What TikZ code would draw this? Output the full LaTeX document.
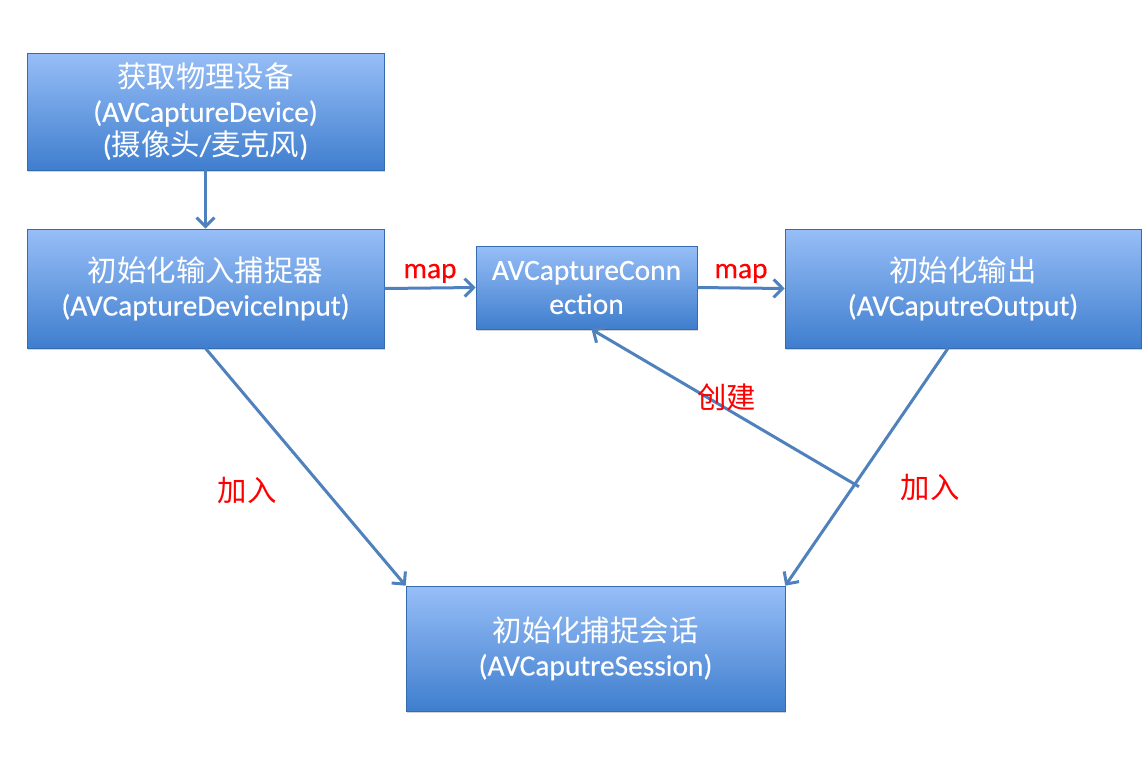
\documentclass[tikz,border=0pt]{standalone}
\usepackage{fontspec}
\setmainfont{Carlito}[FakeBold=0.4]
\newfontfamily\cjk{Noto Sans CJK SC}
\usetikzlibrary{arrows.meta, positioning, shadows, calc}
\definecolor{boxtop}{HTML}{97BEF7}
\definecolor{boxbot}{HTML}{3F7ECE}
\definecolor{linkblue}{HTML}{4F81BD}

\begin{document}
\begin{tikzpicture}[
    x=0.5pt, y=-0.5pt,
    box/.style={rectangle, draw=boxbot!85!black, line width=0.3pt, top color=boxtop, bottom color=boxbot, text=white, align=center, inner sep=0pt, font=\fontsize{14.7}{17}\selectfont, drop shadow={opacity=0.35, shadow xshift=0.6pt, shadow yshift=-1pt}},
    arrow/.style={-{Straight Barb[length=4.5pt, width=9pt]}, line width=1.5pt, draw=linkblue},
    tag/.style={text=red, font=\fontsize{14.7}{17}\selectfont}
]
    \useasboundingbox (0,0) rectangle (1147,762);

    % boxes
    \node[box, minimum width=178.5pt, minimum height=58.5pt] (device) at (205.5,111.5)
        {{\cjk 获取物理设备}\\(AVCaptureDevice)\\({\cjk 摄像头}/{\cjk 麦克风})};
    \node[box, minimum width=178.5pt, minimum height=59.5pt] (input) at (205.5,288.5)
        {{\cjk 初始化输入捕捉器}\\(AVCaptureDeviceInput)};
    \node[box, minimum width=110.5pt, minimum height=41.5pt] (conn) at (586.5,287.5)
        {AVCaptureConn\\ection};
    \node[box, minimum width=178pt, minimum height=59.5pt] (output) at (963,288.5)
        {{\cjk 初始化输出}\\(AVCaputreOutput)};
    \node[box, minimum width=189.5pt, minimum height=62.5pt] (session) at (595.5,648.5)
        {{\cjk 初始化捕捉会话}\\(AVCaputreSession)};

    % connectors
    \draw[arrow] (device) -- (input);
    \draw[arrow] (input.east) -- node[tag, above=-1.5pt] {map} (conn.west);
    \draw[arrow] (conn.east) -- node[tag, above=-1.5pt] {map} (output.west);
    \draw[arrow] (input.south) -- node[tag, pos=0.6, left=20.5pt] {\cjk 加入} (session.north west);
    \coordinate (outfoot) at ([xshift=-7.5pt]output.south);
    \draw[arrow] (outfoot) -- node[tag, pos=0.585, right=20pt] {\cjk 加入} (session.north east);
    \coordinate (split) at ($(outfoot)!0.572!(session.north east)$);
    \draw[arrow] ([xshift=2pt,yshift=-1.3pt]split) -- node[tag, pos=0.52, xshift=3.5pt, yshift=4pt] {\cjk 创建} ([xshift=2.5pt]conn.south);
\end{tikzpicture}
\end{document}
